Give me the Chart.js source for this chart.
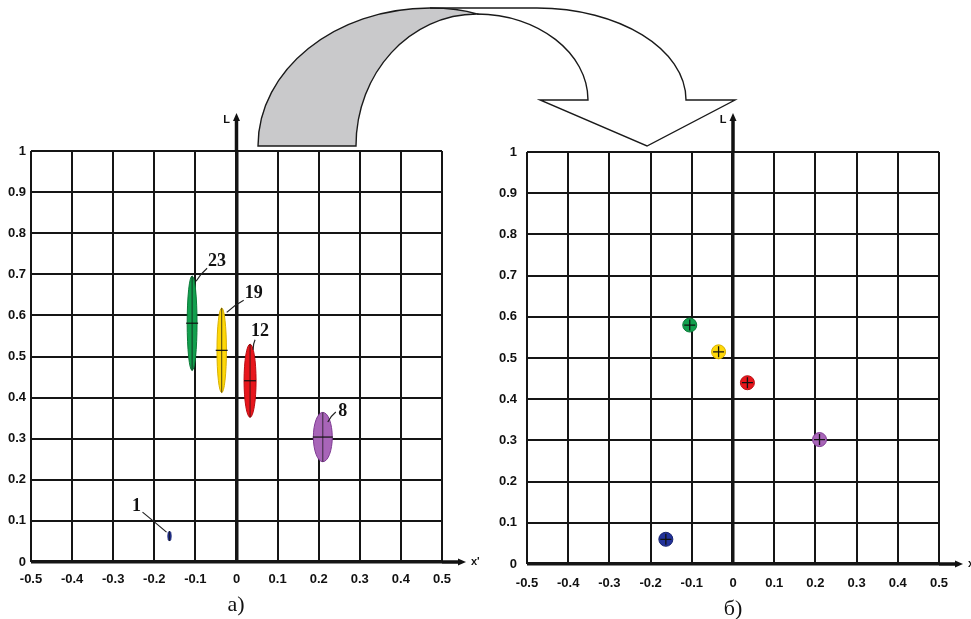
<!DOCTYPE html>
<html><head><meta charset="utf-8">
<script src="https://cdn.jsdelivr.net/npm/chart.js@4"></script>
<style>
html,body{margin:0;padding:0;background:#fff;}
#wrap{position:relative;width:971px;height:619px;overflow:hidden;background:#fff;}
canvas{position:absolute;left:0;top:0;}
.cap{position:absolute;font-family:'Liberation Serif','Times New Roman',serif;font-size:22px;color:#111;transform:translate(-50%,-50%);white-space:nowrap;}
</style></head><body>
<div id="wrap">
<canvas id="ca" width="971" height="619"></canvas>
<canvas id="cb" width="971" height="619"></canvas>
<div class="cap" style="left:236px;top:604px">а)</div>
<div class="cap" style="left:733px;top:608px">б)</div>
</div>
<script>
// ---- data ----
const xTickValues = [-0.5, -0.4, -0.3, -0.2, -0.1, 0, 0.1, 0.2, 0.3, 0.4, 0.5];
const yTickValues = [0, 0.1, 0.2, 0.3, 0.4, 0.5, 0.6, 0.7, 0.8, 0.9, 1];
// panel а: scatter ellipses (centre, semi-axes in data units)
const ellLabels = ['23', '19', '12', '8', '1'];
const ellX  = [-0.108, -0.036, 0.033, 0.210, -0.163];
const ellY  = [0.581, 0.515, 0.441, 0.304, 0.063];
const ellRx = [0.012, 0.0115, 0.0146, 0.023, 0.004];
const ellRy = [0.115, 0.103, 0.089, 0.060, 0.012];
// panel б: compact points
const ptX = [-0.105, -0.035, 0.035, 0.210, -0.163];
const ptY = [0.580, 0.515, 0.440, 0.302, 0.060];

// ---- styles ----
const fillColors   = ['#12a04e', '#ffd808', '#e8161c', '#a865b8', '#22329a'];
const strokeColors = ['#0a7a38', '#d8b000', '#b80c12', '#7e3a92', '#18246e'];
// label / leader offsets in px from ellipse centre: [labelX,labelY, startX,startY, endX,endY]
const labelGeom = [
  [25, -62, 15, -55, 4, -42],
  [32, -57, 22, -50, 5, -38],
  [10, -49, 5, -41, 3, -31],
  [20, -26, 13, -25, 5, -15],
  [-33, -30, -27, -24, -3, -4]
];
const tickFont = {family: "'Liberation Sans Narrow','Liberation Sans',Arial,sans-serif", size: 13, weight: 'bold'};
const fmt = v => String(Math.round(v * 10) / 10);

const axisArrows = {
  id: 'axisArrows',
  afterDraw(chart, args, o) {
    const {ctx, chartArea: a, scales: {x, y}} = chart;
    const x0 = x.getPixelForValue(0), y0 = y.getPixelForValue(0);
    ctx.save();
    ctx.strokeStyle = '#111'; ctx.fillStyle = '#111'; ctx.lineWidth = 3.5;
    ctx.beginPath(); ctx.moveTo(x0, a.top); ctx.lineTo(x0, o.yTip + 6); ctx.stroke();
    ctx.beginPath(); ctx.moveTo(x0, o.yTip); ctx.lineTo(x0 - 3.5, o.yTip + 8); ctx.lineTo(x0 + 3.5, o.yTip + 8); ctx.closePath(); ctx.fill();
    ctx.lineWidth = 3.5;
    ctx.beginPath(); ctx.moveTo(a.right, y0); ctx.lineTo(o.xTip - 6, y0); ctx.stroke();
    ctx.beginPath(); ctx.moveTo(o.xTip, y0); ctx.lineTo(o.xTip - 8, y0 - 3.5); ctx.lineTo(o.xTip - 8, y0 + 3.5); ctx.closePath(); ctx.fill();
    ctx.font = "bold 11px 'Liberation Sans',Arial,sans-serif";
    ctx.textBaseline = 'middle'; ctx.textAlign = 'center';
    ctx.fillText('L', x0 - 10, o.yTip + 7);
    ctx.textAlign = 'left';
    ctx.fillText("x'", o.xTip + 5, y0);
    ctx.restore();
  }
};

const ellipses = {
  id: 'ellipses',
  beforeDatasetsDraw(chart) {
    const {ctx, scales: {x, y}} = chart;
    ctx.save();
    ellX.forEach((vx, i) => {
      const cx = x.getPixelForValue(vx), cy = y.getPixelForValue(ellY[i]);
      const rx = Math.abs(x.getPixelForValue(vx + ellRx[i]) - cx);
      const ry = Math.abs(y.getPixelForValue(ellY[i] + ellRy[i]) - cy);
      ctx.beginPath(); ctx.ellipse(cx, cy, rx, ry, 0, 0, Math.PI * 2);
      ctx.fillStyle = fillColors[i]; ctx.fill();
      ctx.lineWidth = 1; ctx.strokeStyle = strokeColors[i]; ctx.stroke();
      ctx.beginPath(); ctx.moveTo(cx, cy - ry); ctx.lineTo(cx, cy + ry);
      ctx.strokeStyle = 'rgba(20,20,20,0.75)'; ctx.lineWidth = 1; ctx.stroke();
      const g = labelGeom[i];
      ctx.beginPath(); ctx.moveTo(cx + g[2], cy + g[3]);
      ctx.quadraticCurveTo(cx + (g[2] + g[4]) / 2 - 1, cy + (g[3] + g[5]) / 2 - 1, cx + g[4], cy + g[5]);
      ctx.strokeStyle = '#222'; ctx.lineWidth = 1.2; ctx.stroke();
      ctx.fillStyle = '#111';
      ctx.font = "bold 18px 'Liberation Serif','Times New Roman',serif";
      ctx.textAlign = 'center'; ctx.textBaseline = 'middle';
      ctx.fillText(ellLabels[i], cx + g[0], cy + g[1]);
    });
    ctx.restore();
  }
};

const bigArrow = {
  id: 'bigArrow',
  afterDraw(chart) {
    const ctx = chart.ctx;
    ctx.save();
    ctx.lineWidth = 1.4; ctx.strokeStyle = '#1a1a1a'; ctx.lineJoin = 'miter';
    // grey back part
    ctx.beginPath();
    ctx.moveTo(258, 146);
    ctx.bezierCurveTo(258, 70, 335, 8, 430, 8);
    ctx.quadraticCurveTo(458, 8, 477, 14);
    ctx.bezierCurveTo(410, 14, 356, 73, 356, 146);
    ctx.closePath();
    ctx.fillStyle = '#c9c9cb'; ctx.fill(); ctx.stroke();
    // front part with head
    ctx.beginPath();
    ctx.moveTo(430, 8);
    ctx.lineTo(537, 8);
    ctx.bezierCurveTo(619, 8, 686, 49, 686, 100);
    ctx.lineTo(735, 100);
    ctx.lineTo(647, 146);
    ctx.lineTo(540, 100);
    ctx.lineTo(588, 100);
    ctx.bezierCurveTo(588, 53, 538, 14, 477, 14);
    ctx.stroke();
    ctx.restore();
  }
};

function scaleOpts(isX, ticksPad, size) {
  const vals = isX ? xTickValues : yTickValues;
  return {
    type: 'linear',
    min: isX ? -0.5 : 0,
    max: isX ? 0.5 : 1,
    afterBuildTicks: s => { s.ticks = vals.map(v => ({value: v})); },
    afterFit: s => { if (isX) s.height = size; else s.width = size; },
    ticks: {callback: v => fmt(v), font: tickFont, color: '#111', padding: ticksPad, maxRotation: 0, autoSkip: false},
    grid: {color: '#151515', lineWidth: c => (c.tick && Math.abs(c.tick.value) < 1e-9) ? 3.5 : 2, drawTicks: false},
    border: {display: false}
  };
}

function makeChart(id, datasets, padding, xh, yw, xpad, ypad, arrowOpts, plugins) {
  return new Chart(document.getElementById(id), {
    type: 'scatter',
    data: {datasets},
    options: {
      responsive: false, animation: false, events: [],
      layout: {padding},
      scales: {x: scaleOpts(true, xpad, xh), y: scaleOpts(false, ypad, yw)},
      plugins: {legend: {display: false}, tooltip: {enabled: false}, axisArrows: arrowOpts}
    },
    plugins
  });
}

makeChart('ca', [
  {data: ellX.map((v, i) => ({x: v, y: ellY[i]})), pointStyle: 'line', pointRadius: ellX.map((v, i) => i === 4 ? 0 : (i === 3 ? 10 : 6)),
   borderColor: '#111', borderWidth: 1.2, backgroundColor: '#111'}
], {left: 0, top: 151, right: 529, bottom: 0}, 57, 31, 9.5, 5, {yTip: 113, xTip: 466}, [ellipses, axisArrows]);

makeChart('cb', [
  {data: ptX.map((v, i) => ({x: v, y: ptY[i]})), order: 2, pointStyle: 'circle', pointRadius: 7, backgroundColor: fillColors, borderColor: strokeColors, borderWidth: 1},
  {data: ptX.map((v, i) => ({x: v, y: ptY[i]})), order: 1, pointStyle: 'cross', pointRadius: 5.5, borderColor: '#111', borderWidth: 1.3}
], {left: 496, top: 152, right: 32, bottom: 0}, 55, 31, 12, 10, {yTip: 113, xTip: 963}, [axisArrows, bigArrow]);
</script>
</body></html>
